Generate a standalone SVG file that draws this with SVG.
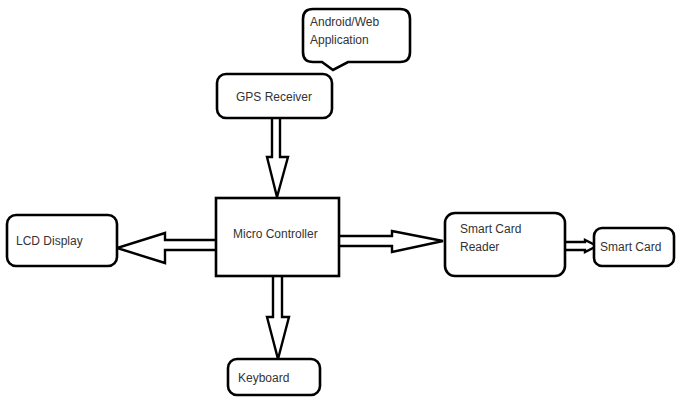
<svg xmlns="http://www.w3.org/2000/svg" width="677" height="397" viewBox="0 0 677 397">
<style>
.box{fill:#fff;stroke:#000;stroke-width:2.6}
.arr{fill:#fff;stroke:#000;stroke-width:2.4;stroke-linejoin:miter}
.t{font-family:"Liberation Sans",Arial,sans-serif;font-size:12px;fill:#333}
</style>
<rect width="677" height="397" fill="#fff"/>
<g id="connectors">
<polyline class="arr" points="272,118 272,157 267,157 277,197 288,157 280,157 280,118"/>
<polyline class="arr" points="216,240 165,240 165,233 117,248 165,263 165,250 216,250"/>
<polyline class="arr" points="339,236 392,236 392,231 443,241 392,252 392,246 339,246"/>
<polyline class="arr" points="565,242 585,242 585,240 597,246 585,252 585,250 565,250"/>
<polyline class="arr" points="273,276 273,317 267,317 278,359 289,317 282,317 282,276"/>
</g>
<g id="app">
<path class="box" d="M313 9H400Q410 9 410 19V52Q410 62 400 62H348L333 70L322 62H313Q303 62 303 52V19Q303 9 313 9Z"/>
<text class="t" x="310" y="26">Android/Web</text>
<text class="t" x="310" y="44">Application</text>
</g>
<g id="gps">
<rect class="box" x="217" y="74" width="115" height="44" rx="9"/>
<text class="t" x="236" y="101">GPS Receiver</text>
</g>
<g id="mc">
<rect class="box" x="216" y="198" width="123" height="78"/>
<text class="t" x="233" y="238">Micro Controller</text>
</g>
<g id="lcd">
<rect class="box" x="7" y="215" width="110" height="51" rx="9"/>
<text class="t" x="16" y="245">LCD Display</text>
</g>
<g id="reader">
<rect class="box" x="445" y="213" width="120" height="63" rx="10"/>
<text class="t" x="460" y="233">Smart Card</text>
<text class="t" x="460" y="251">Reader</text>
</g>
<g id="card">
<rect class="box" x="594" y="228" width="80" height="38" rx="8"/>
<text class="t" x="600" y="251">Smart Card</text>
</g>
<g id="keyboard">
<rect class="box" x="228" y="359" width="92" height="36" rx="9"/>
<text class="t" x="238" y="382">Keyboard</text>
</g>
</svg>
